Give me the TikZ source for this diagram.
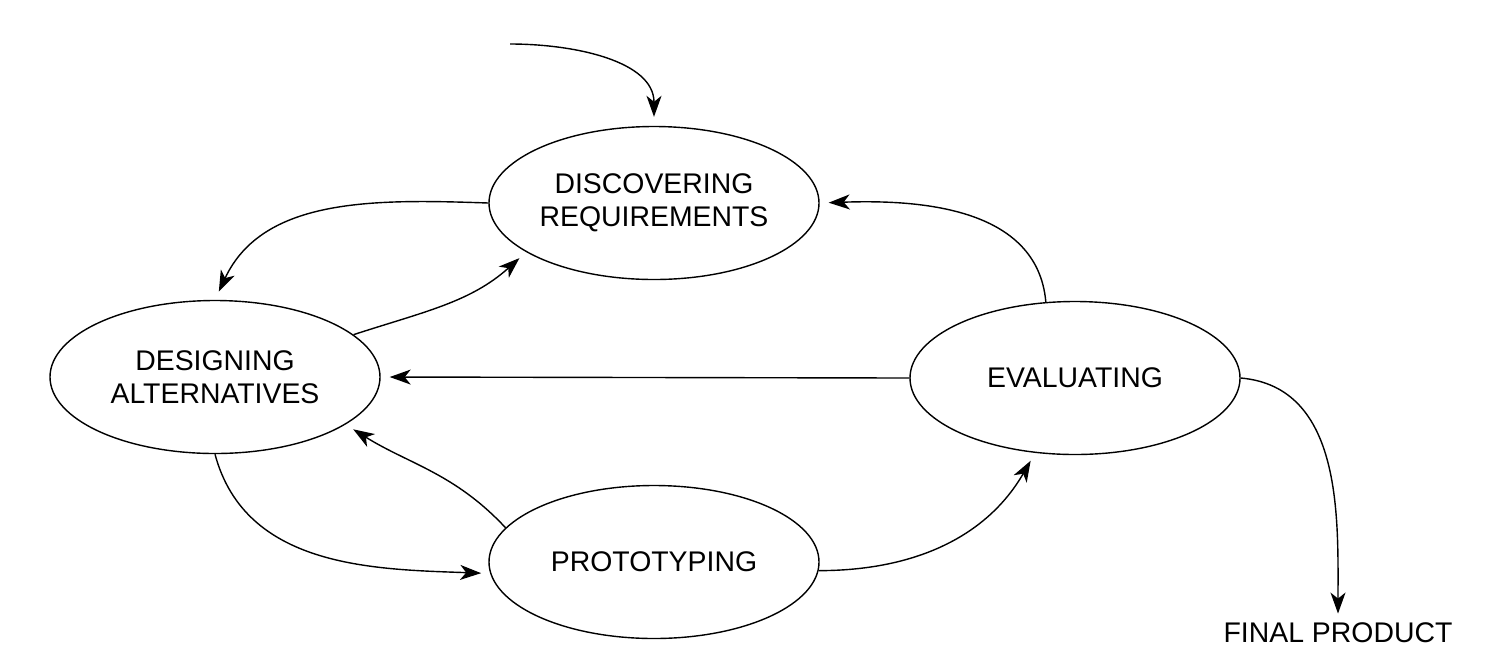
\documentclass[tikz,border=0pt]{standalone}
\usepackage{fontspec}
\setmainfont{Liberation Sans}
\usepackage{tikz}
\usetikzlibrary{shapes.geometric,arrows.meta}
\tikzstyle{stage} = [ellipse, draw=black, line width=0.7pt, minimum width=165pt, minimum height=76.5pt, inner sep=0pt, align=center, font=\fontsize{14.2pt}{16.5pt}\selectfont]
\tikzstyle{label} = [inner sep=0pt, font=\fontsize{14.2pt}{16.5pt}\selectfont]
\tikzstyle{arrow} = [line width=0.7pt, -{Stealth[length=10.5pt,width=7.5pt,inset=3pt]}, shorten >=4.5pt]

\begin{document}
\begin{tikzpicture}[x=0.5pt,y=-0.5pt]
	\useasboundingbox (0,0) rectangle (1498,671);

	\node (disc) [stage] at (654,203) {DISCOVERING\\REQUIREMENTS};
		\node (desg) [stage] at (215,377) {DESIGNING\\ALTERNATIVES};
		\node (eval) [stage] at (1075,378) {EVALUATING};
		\node (proto) [stage] at (654,562) {PROTOTYPING};
		\node (final) [label] at (1338,633) {FINAL PRODUCT};
	\coordinate (in) at (510,44);

	\draw [arrow] (in) to[out=0,in=90] (disc.north);
	\draw [arrow] (disc.west) to[out=178,in=65] (desg.north);
	\draw [arrow] (desg.17) to[out=18,in=222] (disc.201);
	\draw [arrow] (eval.111) to[out=95,in=2] (disc.east);
	\draw [arrow] (eval.west) -- (desg.east);
	\draw [arrow] (desg.south) to[out=-75,in=178] (proto.184);
	\draw [arrow] (proto.167) to[out=133,in=-32] (desg.340);
	\draw [arrow] (proto.-3) to[out=0,in=240] (eval.242);
	\draw [arrow] (eval.east) to[out=-5,in=90] (final.north);

\end{tikzpicture}
\end{document}
